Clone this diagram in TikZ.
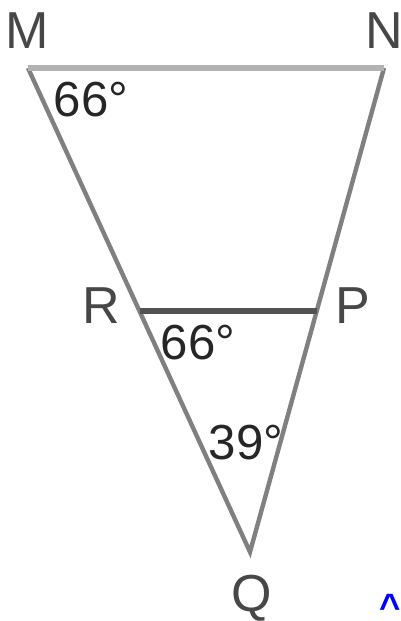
\documentclass[tikz,border=0pt]{standalone}
\usepackage{fontspec}
\setmainfont{Liberation Sans}
\usetikzlibrary{positioning}

\begin{document}
\begin{tikzpicture}[
    x=0.025cm, y=-0.025cm,
    vlabel/.style={font=\fontsize{37}{37}\selectfont, inner sep=0pt, text=black!72},
    angle/.style={font=\fontsize{35}{35}\selectfont, inner sep=0pt, text=black!85},
    side/.style={line width=0.11cm, draw=black!50},
    topside/.style={line width=0.15cm, draw=black!30},
    midside/.style={line width=0.13cm, draw=black!68}
]
\useasboundingbox (0,0) rectangle (401,621);

% vertices
\coordinate (m) at (28,68);
\coordinate (n) at (384,68);
\coordinate (q) at (250,552);
\coordinate (r) at (139.5,311);
\coordinate (p) at (316.7,311);

% sides
\draw[side] (m) -- (q) -- (n);
\draw[topside] (m) -- (n);
\draw[midside] (r) -- (p);

% vertex names
\node[vlabel] (lm) at (27,31) {M};
\node[vlabel] (ln) at (384,31) {N};
\node[vlabel] (lr) at (101,306) {R};
\node[vlabel] (lp) at (353,306) {P};
\node[vlabel] (lq) at (252,598) {Q};

% angles
\node[angle] (am) at (91,100) {66°};
\node[angle] (ar) at (198,343) {66°};
\node[angle] (aq) at (246,443) {39°};

\node[font=\fontsize{26}{26}\selectfont\bfseries, text=blue, inner sep=0pt] (caret) at (390,607) {\textasciicircum};

\end{tikzpicture}
\end{document}
